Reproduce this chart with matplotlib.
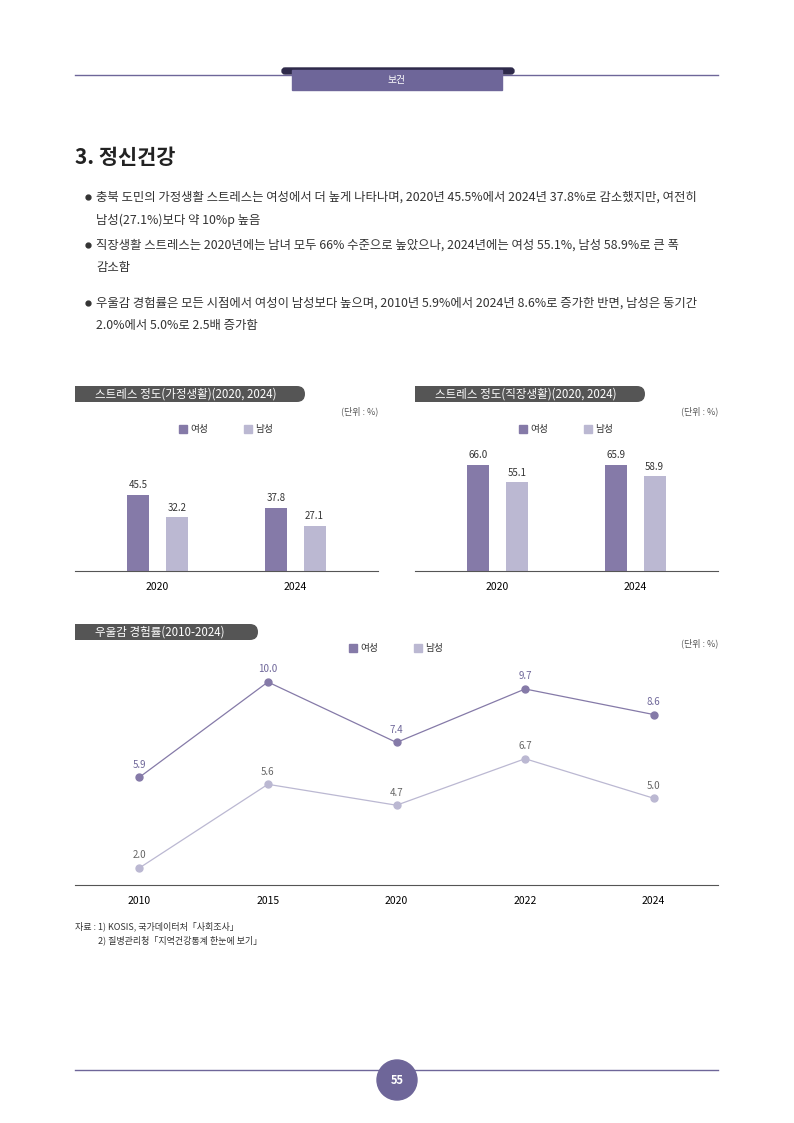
import matplotlib.pyplot as plt
from matplotlib.patches import FancyBboxPatch, Circle, Rectangle

plt.rcParams['font.family'] = ['Noto Sans CJK KR', 'DejaVu Sans']

W, H = 794, 1123
years_bar = ["2020", "2024"]
home_f = [45.5, 37.8]
home_m = [32.2, 27.1]
work_f = [66.0, 65.9]
work_m = [55.1, 58.9]
years_line = ["2010", "2015", "2020", "2022", "2024"]
dep_f = [5.9, 10.0, 7.4, 9.7, 8.6]
dep_m = [2.0, 5.6, 4.7, 6.7, 5.0]

C_F = "#857aa8"
C_M = "#bbb8d2"
C_DARK = "#6e6699"
C_PILL = "#555555"

fig = plt.figure(figsize=(W / 100, H / 100), dpi=100)
bg = fig.add_axes([0, 0, 1, 1])
bg.set_xlim(0, W)
bg.set_ylim(H, 0)
bg.axis("off")

# header
bg.plot([75, 718], [75, 75], color=C_DARK, lw=1)
bg.add_patch(FancyBboxPatch((282, 68), 232, 6, boxstyle="round,pad=0,rounding_size=3", color="#2e2a4a"))
bg.add_patch(Rectangle((292, 70), 210, 20, color=C_DARK))
bg.text(397, 80, "보건", color="white", ha="center", va="center", fontsize=7)

bg.text(75, 157, "3. 정신건강", fontsize=15, fontweight="bold", va="center", color="#222")
bullets = [
    (197, "충북 도민의 가정생활 스트레스는 여성에서 더 높게 나타나며, 2020년 45.5%에서 2024년 37.8%로 감소했지만, 여전히", "남성(27.1%)보다 약 10%p 높음"),
    (245, "직장생활 스트레스는 2020년에는 남녀 모두 66% 수준으로 높았으나, 2024년에는 여성 55.1%, 남성 58.9%로 큰 폭", "감소함"),
    (303, "우울감 경험률은 모든 시점에서 여성이 남성보다 높으며, 2010년 5.9%에서 2024년 8.6%로 증가한 반면, 남성은 동기간", "2.0%에서 5.0%로 2.5배 증가함"),
]
for y, l1, l2 in bullets:
    bg.plot(88, y, "o", ms=3.5, color="#333")
    bg.text(96, y, l1, fontsize=8.9, va="center", color="#333")
    bg.text(96, y + 23, l2, fontsize=8.9, va="center", color="#333")


def pill(x0, x1, y, text):
    bg.add_patch(FancyBboxPatch((x0, y - 8), x1 - x0, 16, boxstyle="round,pad=0,rounding_size=8", color=C_PILL, lw=0))
    bg.add_patch(Rectangle((x0, y - 8), 10, 16, color=C_PILL, lw=0))
    bg.text(x0 + 20, y, text, color="white", fontsize=8.3, va="center")


def legend(xf, xm, y):
    for x, lab, c in [(xf, "여성", C_F), (xm, "남성", C_M)]:
        bg.add_patch(Rectangle((x - 6, y - 4), 8, 8, color=c))
        bg.text(x + 5, y, lab, fontsize=7, va="center", color="#333")


def ax_at(x0, x1, ytop, ybot):
    a = fig.add_axes([x0 / W, 1 - ybot / H, (x1 - x0) / W, (ybot - ytop) / H])
    a.patch.set_alpha(0)
    return a


def bar_chart(x0, x1, fv, mv, title, scale):
    pill(x0, x0 + 230, 394, title)
    bg.text(x1, 411, "(단위 : %)", fontsize=6.5, ha="right", va="center", color="#555")
    legend(x0 + 110, x0 + 175, 429)
    ax = ax_at(x0, x1, 440, 571)
    ax.set_xlim(-0.6, 1.6)
    ax.set_ylim(0, 131 / scale)
    pos = range(len(years_bar))
    bw = 0.16
    for i in pos:
        ax.bar(i - 0.14, fv[i], bw, color=C_F)
        ax.bar(i + 0.14, mv[i], bw, color=C_M)
        ax.text(i - 0.14, fv[i] + 4, f"{fv[i]:.1f}", ha="center", fontsize=7, color="#333")
        ax.text(i + 0.14, mv[i] + 4, f"{mv[i]:.1f}", ha="center", fontsize=7, color="#333")
    ax.set_xticks(list(pos), years_bar, fontsize=7.5)
    ax.tick_params(length=0, pad=8)
    ax.set_yticks([])
    for s in ["top", "left", "right"]:
        ax.spines[s].set_visible(False)
    ax.spines["bottom"].set_color("#555")


bar_chart(75, 378, home_f, home_m, "스트레스 정도(가정생활)(2020, 2024)", 1.67)
bar_chart(415, 718, work_f, work_m, "스트레스 정도(직장생활)(2020, 2024)", 1.61)

# line chart
pill(75, 258, 632, "우울감 경험률(2010-2024)")
legend(355, 420, 648)
bg.text(718, 643, "(단위 : %)", fontsize=6.5, ha="right", va="center", color="#555")
ax = ax_at(75, 718, 650, 885)
ax.set_xlim(-0.5, 4.5)
ax.set_ylim(2.0 - 17 / 23.25, 10.0 + 32 / 23.25)
xs = range(len(years_line))
ax.plot(xs, dep_f, color=C_F, lw=0.9, marker="o", ms=5)
ax.plot(xs, dep_m, color=C_M, lw=0.9, marker="o", ms=5)
for i in xs:
    ax.annotate(f"{dep_f[i]:.1f}", (i, dep_f[i]), xytext=(0, 7), textcoords="offset points",
                ha="center", fontsize=7, color=C_DARK)
    ax.annotate(f"{dep_m[i]:.1f}", (i, dep_m[i]), xytext=(0, 7), textcoords="offset points",
                ha="center", fontsize=7, color="#666")
ax.set_xticks(list(xs), years_line, fontsize=7.5)
ax.tick_params(length=0, pad=8)
ax.set_yticks([])
for s in ["top", "left", "right"]:
    ax.spines[s].set_visible(False)
ax.spines["bottom"].set_color("#555")

bg.text(75, 926, "자료 : 1) KOSIS, 국가데이터처「사회조사」", fontsize=6.5, va="center", color="#333")
bg.text(98, 940, "2) 질병관리청「지역건강통계 한눈에 보기」", fontsize=6.5, va="center", color="#333")

# footer
bg.plot([75, 718], [1070, 1070], color=C_DARK, lw=1)
bg.add_patch(Circle((397, 1080), 20, color=C_DARK))
bg.text(397, 1081, "55", color="white", fontsize=8, fontweight="bold", ha="center", va="center")

fig.savefig("out.png", dpi=100)
